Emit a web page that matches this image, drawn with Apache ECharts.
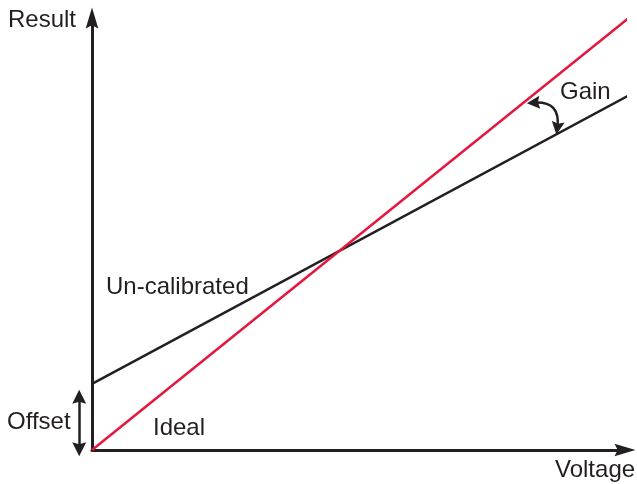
<!DOCTYPE html>
<html>
<head>
<meta charset="utf-8">
<script src="https://cdn.jsdelivr.net/npm/echarts@6/dist/echarts.min.js"></script>
<style>
    html, body { margin: 0; padding: 0; background: #fff; }
    #chart { width: 637px; height: 484px; }
</style>
</head>
<body>
<div id="chart"></div>
<script>
    // line end points (x: voltage, y: result)
    var idealLine = [[0, 0], [10.09, 10.02]];
    var uncalLine = [[0, 1.53], [10.09, 8.22]];
    // annotation arrows
    var offsetArrow = [[-0.24, 1.23], [-0.24, 0.02]];
    var gainArrow = [[8.28, 8.04], [8.73, 7.45]];

    var ink = '#231f20';
    var red = '#e4173e';
    var headPath = 'path://M6,0 L12,20 L6,17 L0,20 Z';
    var font = 'Liberation Sans, Arial, sans-serif';

    var chart = echarts.init(document.getElementById('chart'));

    function label(text, left, top) {
        return {
            type: 'text', left: left, top: top,
            style: { text: text, fill: ink, font: '24px ' + font }
        };
    }

    chart.setOption({
        animation: false,
        grid: { left: 92, right: 12, top: 18, bottom: 34 },
        xAxis: {
            type: 'value', min: 0, max: 10,
            axisLine: { lineStyle: { color: ink, width: 3 }, symbol: ['none', headPath], symbolSize: [14, 21] },
            axisTick: { show: false }, axisLabel: { show: false }, splitLine: { show: false }
        },
        yAxis: {
            type: 'value', min: 0, max: 10,
            axisLine: { lineStyle: { color: ink, width: 3 }, symbol: ['none', headPath], symbolSize: [14, 21] },
            axisTick: { show: false }, axisLabel: { show: false }, splitLine: { show: false }
        },
        series: [
            {
                name: 'Un-calibrated', type: 'line', data: uncalLine, clip: false,
                showSymbol: false, lineStyle: { color: ink, width: 2.5 }
            },
            {
                name: 'Ideal', type: 'line', data: idealLine, clip: false,
                showSymbol: false, lineStyle: { color: red, width: 2.5 }
            },
            {
                type: 'lines', coordinateSystem: 'cartesian2d', clip: false,
                symbol: [headPath, headPath], symbolSize: 14,
                lineStyle: { color: ink, width: 2.5, opacity: 1 },
                data: [{ coords: offsetArrow }]
            },
            {
                type: 'lines', coordinateSystem: 'cartesian2d', clip: false,
                symbol: [headPath, headPath], symbolSize: 13,
                lineStyle: { color: ink, width: 2.5, opacity: 1, curveness: 0.62 },
                data: [{ coords: gainArrow }]
            }
        ],
        graphic: [
            label('Result', 8, 8),
            label('Voltage', 555, 458),
            label('Un-calibrated', 106, 275),
            label('Ideal', 153, 416),
            label('Offset', 7, 410),
            label('Gain', 560, 80)
        ]
    });
</script>
</body>
</html>
